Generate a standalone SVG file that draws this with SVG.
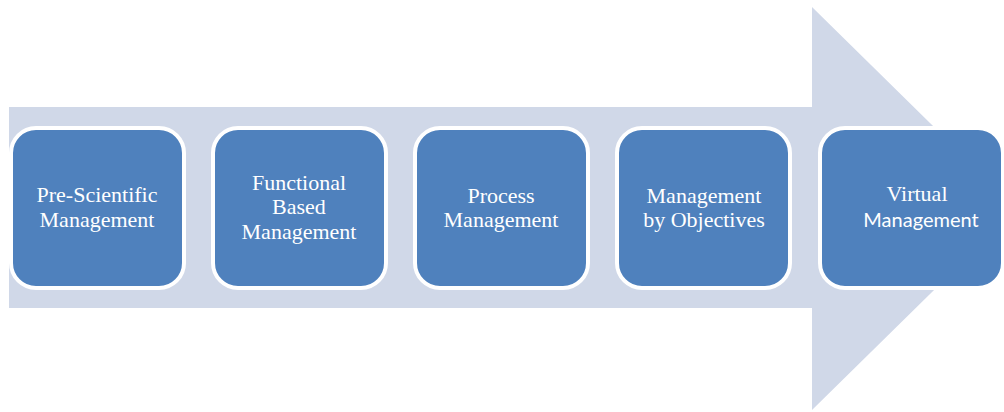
<svg xmlns="http://www.w3.org/2000/svg" width="1004" height="412" viewBox="0 0 1004 412">
<style>
.box{fill:#4F81BD;stroke:#FFFFFF;stroke-width:4}
.t{font-family:"Liberation Serif","Times New Roman",serif;font-size:22px;fill:#FFFFFF;text-anchor:middle}
.s{font-family:Lato,"Open Sans","Liberation Sans",sans-serif;font-size:20px;fill:#FFFFFF;text-anchor:middle}
</style>
<rect width="1004" height="412" fill="#FFFFFF"/>
<g id="connectors">
<polygon points="9,107 812,107 812,7 1017,208.5 812,410 812,308 9,308" fill="#D0D8E8"/>
</g>
<g id="node1">
<rect class="box" x="11" y="128" width="173" height="160" rx="25"/>
<text class="t" x="97" y="202">Pre-Scientific</text>
<text class="t" x="97" y="227">Management</text>
</g>
<g id="node2">
<rect class="box" x="213" y="128" width="173" height="160" rx="25"/>
<text class="t" x="299" y="190">Functional</text>
<text class="t" x="299" y="214">Based</text>
<text class="t" x="299" y="239">Management</text>
</g>
<g id="node3">
<rect class="box" x="415" y="128" width="173" height="160" rx="25"/>
<text class="t" x="501" y="203">Process</text>
<text class="t" x="501" y="227">Management</text>
</g>
<g id="node4">
<rect class="box" x="617" y="128" width="173" height="160" rx="25"/>
<text class="t" x="704" y="203">Management</text>
<text class="t" x="704" y="227">by Objectives</text>
</g>
<g id="node5">
<rect class="box" x="820" y="128" width="183" height="160" rx="25"/>
<text class="t" x="917" y="201">Virtual</text>
<text class="s" x="921" y="227">Management</text>
</g>
</svg>
